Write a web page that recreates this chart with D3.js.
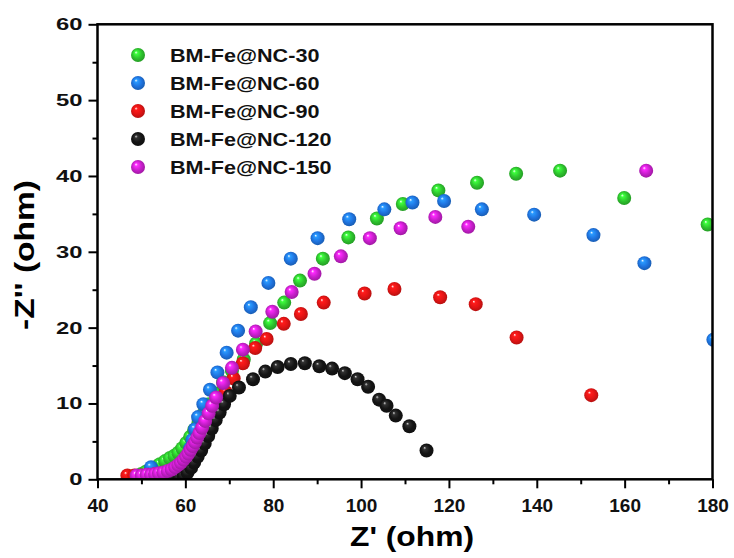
<!DOCTYPE html>
<html>
<head>
<meta charset="utf-8">
<script src="https://cdn.jsdelivr.net/npm/d3@7"></script>
<style>
  body { margin: 0; background: #fff; }
  svg { display: block; font-family: "Liberation Sans", Arial, sans-serif; font-weight: bold; }
</style>
</head>
<body>
<svg id="chart" width="734" height="558"></svg>
<script>
// EIS Nyquist data: [Z', -Z'']
const seriesNames = ["BM-Fe@NC-30", "BM-Fe@NC-60", "BM-Fe@NC-90", "BM-Fe@NC-120", "BM-Fe@NC-150"];
const seriesColors = ["#2ec42e", "#1f74e0", "#e31414", "#141414", "#c81fcc"];

const nc30 = [[50.0,0.7],[51.0,1.0],[52.1,1.3],[53.2,1.6],[54.2,2.0],[55.4,2.4],[56.5,2.8],[57.5,3.1],[58.4,3.5],[59.3,4.1],
  [60.2,4.8],[61.1,5.6],[62.0,6.5],[63.0,7.5],[64.1,8.6],[65.4,9.9],[66.9,11.3],[68.6,12.8],[70.6,14.3],[73.3,15.8],
  [76.1,17.9],[79.3,20.6],[82.5,23.3],[86.1,26.2],[91.3,29.1],[97.1,31.9],[103.6,34.4],[109.5,36.3],[117.6,38.1],
  [126.4,39.1],[135.3,40.3],[145.3,40.7],[159.9,37.1],[178.9,33.6]];

const nc60 = [[52.2,1.6],[57.9,0.2],[58.7,0.7],[59.4,1.4],[60.0,2.2],[60.6,3.1],[61.1,4.1],[61.6,5.2],[62.2,6.6],[62.9,8.2],
  [64.1,9.9],[65.6,11.8],[67.3,14.1],[69.4,16.7],[72.0,19.6],[74.9,22.7],[78.9,25.9],[84.0,29.1],[90.1,31.8],[97.3,34.3],
  [105.3,35.6],[111.7,36.5],[118.9,36.7],[127.5,35.6],[139.4,34.9],[152.9,32.2],[164.5,28.5],[180.2,18.4]];

const nc90 = [[46.8,0.5],[48.4,0.5],[50.0,0.5],[51.6,0.6],[53.2,0.7],[54.8,0.8],[56.3,1.0],[57.7,1.3],[59.0,1.7],[60.2,2.3],
  [61.3,3.0],[62.3,3.8],[63.3,4.8],[64.3,5.9],[65.3,7.1],[66.4,8.4],[67.7,9.9],[69.2,11.5],[71.0,13.3],[73.1,15.3],
  [75.9,17.3],[78.5,18.5],[82.4,20.5],[86.3,21.8],[91.5,23.3],[100.8,24.5],[107.6,25.1],[118.0,24.0],[126.1,23.1],
  [135.4,18.7],[152.4,11.1]];

const nc120 = [[57.5,0.2],[58.6,0.3],[59.6,0.5],[60.5,0.9],[61.3,1.5],[62.0,2.2],[62.8,3.0],[63.6,3.8],[64.4,4.7],[65.2,5.7],
  [66.0,6.7],[66.9,7.8],[67.8,8.8],[68.8,9.9],[70.1,11.0],[72.2,12.1],[75.4,13.2],[78.2,14.2],[81.0,14.8],[84.0,15.2],
  [87.2,15.3],[90.5,14.9],[93.4,14.6],[96.3,14.0],[99.2,13.2],[101.6,12.2],[104.1,10.5],[105.8,9.7],[107.9,8.4],
  [111.0,7.0],[114.9,3.8]];

const nc150 = [[48.9,0.5],[50.1,0.5],[51.2,0.6],[52.2,0.6],[53.1,0.7],[54.0,0.8],[55.0,0.9],[56.0,1.1],[56.9,1.3],[57.7,1.6],
  [58.4,1.9],[59.0,2.2],[59.6,2.6],[60.2,3.0],[60.7,3.4],[61.2,3.9],[61.7,4.4],[62.2,4.9],[62.7,5.5],[63.2,6.1],
  [63.8,6.8],[64.5,7.7],[65.3,8.7],[66.1,9.7],[67.0,10.8],[68.6,12.7],[70.6,14.7],[73.1,17.1],[76.0,19.5],[79.8,22.1],
  [84.2,24.7],[89.4,27.1],[95.4,29.4],[102.0,31.8],[109.0,33.1],[116.9,34.6],[124.4,33.3],[164.9,40.7]];

const seriesData = [nc30, nc60, nc90, nc120, nc150];

const xTicks = [40, 60, 80, 100, 120, 140, 160, 180];
const yTicks = [0, 10, 20, 30, 40, 50, 60];

var svg = d3.select("#chart"),
    margin = {top: 24.3, right: 21.5, bottom: 78.7, left: 97.5},
    width = +svg.attr("width") - margin.left - margin.right,
    height = +svg.attr("height") - margin.top - margin.bottom;

var x = d3.scaleLinear().domain([40, 180]).range([0, width]);
var y = d3.scaleLinear().domain([0, 60]).range([height, 0]);

// sphere look for the markers
var defs = svg.append("defs");
seriesColors.forEach(function(c, i) {
  var g = defs.append("radialGradient")
    .attr("id", "ball" + i)
    .attr("cx", "50%").attr("cy", "50%").attr("r", "60%")
    .attr("fx", "35%").attr("fy", "30%");
  var base = d3.color(c);
  g.append("stop").attr("offset", "0%").attr("stop-color", i === 3 ? "#d8d8d8" : "#ffffff");
  g.append("stop").attr("offset", "18%").attr("stop-color", base.brighter(i === 3 ? 2.5 : 0.8));
  g.append("stop").attr("offset", "55%").attr("stop-color", c);
  g.append("stop").attr("offset", "100%").attr("stop-color", base.darker(0.9));
});
defs.append("clipPath").attr("id", "plotClip")
  .append("rect").attr("x", 0).attr("y", 0).attr("width", width).attr("height", height);

let g = svg.append("g").attr("transform", "translate(" + margin.left + "," + margin.top + ")");

// points
var pts = g.append("g").attr("clip-path", "url(#plotClip)");
seriesData.forEach(function(data, i) {
  pts.append("g").selectAll("circle")
    .data(data)
    .enter().append("circle")
    .attr("cx", function(d) { return x(d[0]); })
    .attr("cy", function(d) { return y(d[1]); })
    .attr("r", 7)
    .attr("fill", "url(#ball" + i + ")");
});

// minor ticks
g.append("g")
  .attr("transform", "translate(0," + height + ")")
  .call(d3.axisBottom(x).tickValues(d3.range(50, 180, 20)).tickSize(5).tickFormat("").tickSizeOuter(0))
  .call(s => s.select(".domain").remove())
  .selectAll("line").attr("stroke-width", 2);
g.append("g")
  .call(d3.axisLeft(y).tickValues(d3.range(5, 60, 10)).tickSize(5).tickFormat("").tickSizeOuter(0))
  .call(s => s.select(".domain").remove())
  .selectAll("line").attr("stroke-width", 2);

// major ticks + labels
var xAxis = g.append("g")
  .attr("transform", "translate(0," + height + ")")
  .call(d3.axisBottom(x).tickValues(xTicks).tickSize(9).tickPadding(10).tickSizeOuter(0));
xAxis.select(".domain").remove();
xAxis.selectAll("line").attr("stroke-width", 2);
xAxis.selectAll("text").attr("font-size", 19).attr("font-family", null).attr("fill", "#111");

var yAxis = g.append("g")
  .call(d3.axisLeft(y).tickValues(yTicks).tickSize(9).tickSizeOuter(0));
yAxis.select(".domain").remove();
yAxis.selectAll("line").attr("stroke-width", 2);
yAxis.selectAll("text")
  .attr("font-size", 17).attr("font-family", null).attr("fill", "#111")
  .attr("x", 0)
  .attr("transform", "translate(-15,0) scale(1.4,1)");

// frame
g.append("rect")
  .attr("width", width).attr("height", height)
  .attr("fill", "none").attr("stroke", "#000").attr("stroke-width", 2.5);

// axis titles
svg.append("text")
  .attr("x", 412).attr("y", 546)
  .attr("text-anchor", "middle")
  .attr("font-size", 28)
  .attr("textLength", 124).attr("lengthAdjust", "spacingAndGlyphs")
  .text("Z' (ohm)");

svg.append("text")
  .attr("transform", "translate(34,255) rotate(-90)")
  .attr("text-anchor", "middle")
  .attr("font-size", 28)
  .attr("textLength", 150).attr("lengthAdjust", "spacingAndGlyphs")
  .text("-Z'' (ohm)");

// legend
var legend = svg.append("g").attr("transform", "translate(138,55)");
seriesNames.forEach(function(name, i) {
  var row = legend.append("g").attr("transform", "translate(0," + (i * 28) + ")");
  row.append("circle").attr("r", 7).attr("fill", "url(#ball" + i + ")");
  row.append("text")
    .attr("transform", "translate(32,7) scale(1.2,1)")
    .attr("font-size", 18)
    .attr("fill", "#111")
    .text(name);
});
</script>
</body>
</html>
